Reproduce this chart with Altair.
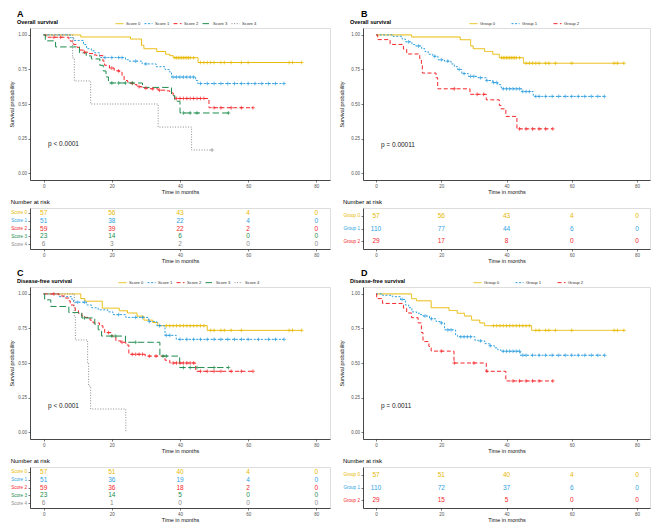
import altair as alt
import pandas as pd

FONT = "Liberation Sans"
TIME_TICKS = [0, 20, 40, 60, 80]
SURV_TICKS = [0, 0.25, 0.5, 0.75, 1.0]

SCORE_GROUPS = ["Score 0", "Score 1", "Score 2", "Score 3", "Score 4"]
SCORE_COLORS = ["#E7B800", "#2E9FDF", "#F5262B", "#1E8C4E", "#8C8C8C"]
SCORE_DASHES = [[1, 0], [2, 1.6], [4, 2.4], [6.5, 3], [1, 1.6]]
GROUP_GROUPS = ["Group 0", "Group 1", "Group 2"]
GROUP_COLORS = ["#E7B800", "#2E9FDF", "#F5262B"]
GROUP_DASHES = [[1, 0], [2, 1.6], [4, 2.4]]

# ---------- Panel A: overall survival by score ----------
A_S0_T = [0, 10.9, 25.5, 28.7, 29.4, 33.2, 35.8, 37.0, 38.0, 45.3, 75.7]
A_S0_S = [1, 0.985, 0.97, 0.925, 0.90, 0.88, 0.86, 0.85, 0.835, 0.80, 0.80]
A_S0_C = [38.5, 39, 39.5, 40, 40.5, 41, 41.5, 42, 42.5, 43, 44, 46, 47, 48, 49, 50, 52, 53, 55, 58, 60, 72, 73, 75.7]
A_S1_T = [0, 7.8, 8.8, 11.7, 12.6, 14.0, 15.0, 16.4, 24.0, 25.0, 28.9, 33.0, 35.6, 37.0, 37.5, 44.6, 45.2, 70.5]
A_S1_S = [1, 0.98, 0.96, 0.93, 0.90, 0.885, 0.87, 0.836, 0.82, 0.81, 0.79, 0.77, 0.75, 0.73, 0.695, 0.67, 0.648, 0.648]
A_S1_C = [18, 20, 22, 23, 27, 30, 38, 39, 40, 41, 42, 43, 44, 46, 48, 50, 52, 54, 56, 58, 60, 62, 64, 66, 68, 70.5]
A_S2_T = [0, 0.7, 7.4, 7.8, 8.8, 9.8, 10.7, 11.7, 13.0, 14.5, 15.5, 17.4, 17.9, 19.3, 20.7, 22.2, 23.0, 23.6,
          24.6, 25.5, 26.5, 27.4, 28.9, 30.8, 33.6, 35.6, 37.0, 38.0, 38.4, 48.5, 61.4]
A_S2_S = [1, 0.983, 0.97, 0.955, 0.93, 0.91, 0.89, 0.875, 0.865, 0.855, 0.85, 0.81, 0.78, 0.76, 0.74, 0.73, 0.705, 0.67,
          0.66, 0.65, 0.64, 0.625, 0.615, 0.61, 0.60, 0.595, 0.58, 0.555, 0.54, 0.473, 0.473]
A_S2_C = [3, 5, 12, 20, 22, 26, 28, 30, 32, 34, 39, 40, 41, 42, 43, 44, 45, 46, 47, 50, 52, 55, 58, 61.4]
A_S3_T = [0, 0.5, 3.5, 10.5, 12.5, 14.0, 16.5, 17.5, 18.3, 19.0, 29.0, 37.5, 38.5, 40.0, 54.2]
A_S3_S = [1, 0.957, 0.913, 0.87, 0.848, 0.826, 0.78, 0.739, 0.696, 0.652, 0.62, 0.56, 0.52, 0.435, 0.435]
A_S3_C = [20, 22, 24, 26, 41, 43, 45, 54.2]
A_S4_T = [0, 8.5, 9.0, 13.8, 33.6, 43.4, 49.4]
A_S4_S = [1, 0.833, 0.667, 0.5, 0.333, 0.167, 0.167]
A_S4_C = [49.4]
A_RISK = [[57, 56, 43, 4, 0], [51, 38, 22, 4, 0], [59, 39, 22, 2, 0], [23, 14, 6, 0, 0], [6, 3, 2, 0, 0]]

# ---------- Panel B: overall survival by group ----------
B_G0_T = [0, 10.9, 25.8, 29.0, 29.8, 33.3, 35.8, 37.8, 45.2, 76.0]
B_G0_S = [1, 0.985, 0.965, 0.92, 0.90, 0.88, 0.86, 0.835, 0.795, 0.795]
B_G0_C = [38.5, 39, 39.5, 40, 40.5, 41, 41.5, 42, 42.5, 43, 44, 46, 47, 48, 49, 50, 52, 53, 55, 60, 73, 74, 76.0]
B_G1_T = [0, 5, 8, 9, 11, 12, 14, 15, 16, 17.4, 19, 21, 23, 24, 25, 26.3, 28.3, 31.3, 33.8, 35.8, 37.3, 38.3, 38.8,
          44.7, 48.2, 70.0]
B_G1_S = [1, 0.99, 0.97, 0.95, 0.93, 0.92, 0.90, 0.88, 0.86, 0.845, 0.82, 0.81, 0.79, 0.77, 0.75, 0.72, 0.70, 0.69,
          0.67, 0.655, 0.64, 0.62, 0.61, 0.59, 0.555, 0.555]
B_G1_C = [10, 13, 18, 20, 22, 25.5, 27, 29, 30, 32, 34, 36, 37, 39, 40, 41, 42, 43, 44, 45, 46, 47, 49, 50, 52, 54,
          56, 58, 60, 62, 64, 66, 68, 70.0]
B_G2_T = [0, 0.5, 4.3, 8.4, 9.4, 13.4, 13.9, 14.2, 18.4, 18.9, 28.8, 33.8, 37.8, 38.3, 39.8, 43.2, 54.2]
B_G2_S = [1, 0.966, 0.931, 0.897, 0.862, 0.828, 0.793, 0.724, 0.69, 0.61, 0.57, 0.53, 0.49, 0.465, 0.41, 0.32, 0.32]
B_G2_C = [24, 31, 33, 44, 46, 48, 50, 52, 54.2]
B_RISK = [[57, 56, 43, 4, 0], [110, 77, 44, 6, 0], [29, 17, 8, 0, 0]]

# ---------- Panel C: disease-free survival by score ----------
C_S0_T = [0, 10.9, 12.1, 17.2, 22.2, 24.6, 27.4, 29.4, 32.0, 33.5, 48.0, 75.7]
C_S0_S = [1, 0.966, 0.947, 0.897, 0.878, 0.862, 0.839, 0.81, 0.793, 0.77, 0.736, 0.736]
C_S0_C = [36, 37, 38, 39, 40, 41, 42, 43, 44, 45, 46, 47, 49, 50, 52, 53, 55, 58, 72, 73, 75.7]
C_S1_T = [0, 4.5, 8.3, 8.8, 12.6, 14, 16, 18.8, 20.3, 24.1, 30.8, 33.2, 35.6, 38.9, 70.5]
C_S1_S = [1, 0.98, 0.96, 0.94, 0.92, 0.90, 0.885, 0.87, 0.85, 0.83, 0.80, 0.77, 0.70, 0.671, 0.671]
C_S1_C = [10, 12, 22, 27, 29, 31, 34, 36, 37, 40, 42, 44, 46, 48, 50, 52, 54, 56, 58, 60, 63, 66, 68, 70.5]
C_S2_T = [0, 4.5, 6.4, 7.4, 7.8, 8.8, 9.3, 10.2, 11.2, 12.1, 13.6, 14.5, 16.4, 17.4, 17.9, 19.8, 20.3, 21.2, 22.7,
          24.1, 25.0, 29.8, 35.6, 37.0, 44.6, 61.4]
C_S2_S = [1, 0.985, 0.97, 0.95, 0.92, 0.90, 0.88, 0.86, 0.84, 0.83, 0.81, 0.79, 0.77, 0.745, 0.72, 0.70, 0.69, 0.66,
          0.65, 0.63, 0.563, 0.55, 0.52, 0.50, 0.44, 0.44]
C_S2_C = [3, 19, 23, 26, 27, 28, 29, 31, 33, 38, 39, 40, 41, 42, 43, 44, 46, 48, 50, 52, 55, 58, 61.4]
C_S3_T = [0, 0.3, 2.1, 7.4, 11.2, 15, 16, 17, 24, 34.1, 39.9, 54.2]
C_S3_S = [1, 0.957, 0.909, 0.865, 0.826, 0.78, 0.74, 0.695, 0.65, 0.55, 0.467, 0.467]
C_S3_C = [12, 20, 21, 27, 35, 36, 41, 43, 45, 50, 54.2]
C_S4_T = [0, 9.0, 9.3, 12.9, 13.2, 13.8, 24.1]
C_S4_S = [1, 0.833, 0.667, 0.5, 0.333, 0.167, 0]
C_S4_C = []
C_RISK = [[57, 51, 40, 4, 0], [51, 36, 19, 4, 0], [59, 36, 18, 2, 0], [23, 14, 5, 0, 0], [6, 1, 0, 0, 0]]

# ---------- Panel D: disease-free survival by group ----------
D_G0_T = [0, 10.9, 12.4, 16.9, 22.4, 24.9, 27.1, 29.3, 31.8, 33.3, 47.7, 76.0]
D_G0_S = [1, 0.965, 0.95, 0.90, 0.88, 0.86, 0.84, 0.81, 0.79, 0.77, 0.736, 0.736]
D_G0_C = [36, 37, 38, 39, 40, 41, 42, 43, 44, 45, 46, 47, 49, 50, 52, 53, 55, 60, 73, 74, 76.0]
D_G1_T = [0, 2, 5, 7.5, 9, 10, 11, 12.4, 13.4, 14.4, 16.4, 18.4, 19.9, 21, 24.4, 25, 30.3, 31.3, 33.3, 34.8, 36.3,
          37.3, 38.3, 44.2, 70.1]
D_G1_S = [1, 0.99, 0.98, 0.96, 0.92, 0.90, 0.87, 0.86, 0.85, 0.84, 0.82, 0.80, 0.79, 0.74, 0.70, 0.69, 0.665, 0.66,
          0.64, 0.625, 0.61, 0.595, 0.585, 0.556, 0.556]
D_G1_C = [8, 15, 17, 20, 22, 23, 26, 27, 28, 29, 32, 35, 39, 40, 41, 42, 43, 44, 45, 46, 48, 50, 52, 54, 56, 58, 60,
          62, 64, 66, 68, 70.1]
D_G2_T = [0, 0.2, 2, 8.4, 9.4, 10.9, 12.9, 13.9, 14.4, 16.2, 16.9, 23.9, 33.8, 39.8, 54.2]
D_G2_S = [1, 0.966, 0.931, 0.897, 0.862, 0.828, 0.79, 0.72, 0.655, 0.62, 0.586, 0.50, 0.44, 0.37, 0.37]
D_G2_C = [20, 24, 30, 34, 42, 44, 46, 48, 50, 54.2]
D_RISK = [[57, 51, 40, 4, 0], [110, 72, 37, 6, 0], [29, 15, 5, 0, 0]]

P_TEXT = ["p < 0.0001", "p = 0.00011", "p < 0.0001", "p = 0.0011"]
P_POS = [(1.3, 0.21), (1.5, 0.205), (1.3, 0.19), (1.5, 0.19)]

XSCALE = dict(domain=[-4, 84], nice=False, zero=False)
AXIS_STYLE = dict(grid=False, domainColor="#222222", domainWidth=0.8, tickColor="#222222", tickWidth=0.6,
                  tickSize=2, labelFontSize=4.5, labelColor="#555555", labelFont=FONT, titleFont=FONT,
                  titleFontSize=5.5, titleFontWeight="normal", titleColor="#111111", labelPadding=1.5,
                  labelOverlap=False)


def step_value(times, survs, t):
    val = survs[0]
    for ti, si in zip(times, survs):
        if ti <= t:
            val = si
    return val


def km_panel(letter, letter_dx, subtitle, groups, colors, dashes, curves, censors, ptext, ppos, width, height,
             ytitle_pad, legend_pad, legend_col_pad):
    line_rows, cens_rows = [], []
    for g, (t, s), c in zip(groups, curves, censors):
        for ti, si in zip(t, s):
            line_rows.append({"group": g, "time": ti, "surv": si})
        for ct in c:
            cens_rows.append({"group": g, "time": ct, "surv": step_value(t, s, ct)})
    lines = pd.DataFrame(line_rows)
    cens = pd.DataFrame(cens_rows)
    xsc = alt.Scale(**XSCALE)
    ysc = alt.Scale(domain=[-0.05, 1.05], nice=False, zero=False)
    legend = alt.Legend(orient="none", legendX=-13, legendY=-9, direction="horizontal", title=subtitle,
                        titleOrient="left", titleFontSize=5.5, titleFont=FONT, titleFontWeight="bold",
                        titleColor="black", titlePadding=legend_pad, labelFontSize=4.2, labelFont=FONT,
                        labelColor="#333333", symbolType="stroke", symbolSize=64, symbolStrokeWidth=1,
                        columnPadding=legend_col_pad, labelOffset=2, titleBaseline="middle")
    xaxis = alt.Axis(values=TIME_TICKS, title="Time in months", titlePadding=1, **AXIS_STYLE)
    yaxis = alt.Axis(values=SURV_TICKS, tickCount=5, format=".2f", title="Survival probability",
                     titlePadding=ytitle_pad, **AXIS_STYLE)
    cscale = alt.Scale(domain=groups, range=colors)
    xenc = alt.X("time:Q", scale=xsc, axis=xaxis)
    yenc = alt.Y("surv:Q", scale=ysc, axis=yaxis)
    line = alt.Chart(lines).mark_line(interpolate="step-after", strokeWidth=1).encode(
        x=xenc, y=yenc,
        color=alt.Color("group:N", scale=cscale, legend=legend),
        strokeDash=alt.StrokeDash("group:N", scale=alt.Scale(domain=groups, range=dashes), legend=legend),
    )
    pts = alt.Chart(cens).mark_point(shape="M-1,0L1,0M0,-1L0,1", size=14, strokeWidth=0.7, filled=False,
                                     opacity=1).encode(
        x=xenc, y=yenc,
        color=alt.Color("group:N", scale=cscale, legend=None),
    )
    pdf = pd.DataFrame({"time": [ppos[0]], "surv": [ppos[1]], "label": [ptext]})
    ptxt = alt.Chart(pdf).mark_text(align="left", baseline="middle", fontSize=6.5, font=FONT,
                                    color="#222222").encode(x=xenc, y=yenc, text="label:N")
    return alt.layer(line, pts, ptxt).properties(
        width=width, height=height,
        title=alt.Title(letter, anchor="start", frame="group", dx=letter_dx, fontSize=9, fontWeight="bold",
                        font=FONT, color="black", offset=0))


def risk_panel(groups, colors, table, width, height):
    rows = [{"group": g, "time": t, "n": n} for g, ns in zip(groups, table) for t, n in zip(TIME_TICKS, ns)]
    label_color = {"condition": [{"test": f"datum.value === '{g}'", "value": c} for g, c in zip(groups, colors)],
                   "value": "black"}
    style = {k: v for k, v in AXIS_STYLE.items() if k != "labelColor"}
    style["labelFontSize"] = 4.6
    return alt.Chart(pd.DataFrame(rows)).mark_text(fontSize=6.5, font=FONT).encode(
        x=alt.X("time:Q", scale=alt.Scale(**XSCALE),
                axis=alt.Axis(values=TIME_TICKS, title="Time in months", titlePadding=1, **AXIS_STYLE)),
        y=alt.Y("group:N", sort=groups, scale=alt.Scale(domain=groups, padding=0.6),
                axis=alt.Axis(title=None, labelColor=label_color, **style)),
        color=alt.Color("group:N", scale=alt.Scale(domain=groups, range=colors), legend=None),
        text=alt.Text("n:Q"),
    ).properties(width=width, height=height,
                 title=alt.Title("Number at risk", anchor="start", fontSize=6, fontWeight="normal", font=FONT,
                                 color="black", offset=3))


WL, WR, HK, HR = 300, 287, 152, 41

kmA = km_panel("A", -13, "Overall survival", SCORE_GROUPS, SCORE_COLORS, SCORE_DASHES,
               [(A_S0_T, A_S0_S), (A_S1_T, A_S1_S), (A_S2_T, A_S2_S), (A_S3_T, A_S3_S), (A_S4_T, A_S4_S)],
               [A_S0_C, A_S1_C, A_S2_C, A_S3_C, A_S4_C], P_TEXT[0], P_POS[0], WL, HK, 3, 57, 1)
kmB = km_panel("B", -2, "Overall survival", GROUP_GROUPS, GROUP_COLORS, GROUP_DASHES,
               [(B_G0_T, B_G0_S), (B_G1_T, B_G1_S), (B_G2_T, B_G2_S)],
               [B_G0_C, B_G1_C, B_G2_C], P_TEXT[1], P_POS[1], WR, HK, 6, 78, 13)
kmC = km_panel("C", -13, "Disease-free survival", SCORE_GROUPS, SCORE_COLORS, SCORE_DASHES,
               [(C_S0_T, C_S0_S), (C_S1_T, C_S1_S), (C_S2_T, C_S2_S), (C_S3_T, C_S3_S), (C_S4_T, C_S4_S)],
               [C_S0_C, C_S1_C, C_S2_C, C_S3_C, C_S4_C], P_TEXT[2], P_POS[2], WL, HK, 3, 45, 1)
kmD = km_panel("D", -2, "Disease-free survival", GROUP_GROUPS, GROUP_COLORS, GROUP_DASHES,
               [(D_G0_T, D_G0_S), (D_G1_T, D_G1_S), (D_G2_T, D_G2_S)],
               [D_G0_C, D_G1_C, D_G2_C], P_TEXT[3], P_POS[3], WR, HK, 6, 67, 13)

rA = risk_panel(SCORE_GROUPS, SCORE_COLORS, A_RISK, WL, HR)
rB = risk_panel(GROUP_GROUPS, GROUP_COLORS, B_RISK, WR, HR)
rC = risk_panel(SCORE_GROUPS, SCORE_COLORS, C_RISK, WL, HR)
rD = risk_panel(GROUP_GROUPS, GROUP_COLORS, D_RISK, WR, HR)

RES = dict(color="independent", strokeDash="independent")


def panel(km, rk):
    return alt.vconcat(km, rk, spacing=3).resolve_scale(**RES)


row1 = alt.hconcat(panel(kmA, rA), panel(kmB, rB), spacing=8).resolve_scale(**RES)
row2 = alt.hconcat(panel(kmC, rC), panel(kmD, rD), spacing=8).resolve_scale(**RES)
chart = alt.vconcat(row1, row2, spacing=4).resolve_scale(**RES).properties(
    padding={"left": 1, "top": 1, "right": 1, "bottom": 1}
).configure_view(stroke=None).configure(font=FONT)

chart.save("out.html", embed_options={"renderer": "svg", "actions": False})
